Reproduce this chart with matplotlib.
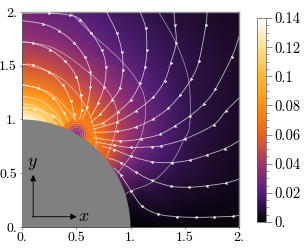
#!/usr/bin/env python3
import numpy as np
import matplotlib
matplotlib.use('Agg')
import matplotlib.pyplot as plt
from matplotlib.colors import LinearSegmentedColormap, Normalize
from matplotlib.cm import ScalarMappable
from matplotlib.patches import Circle
from matplotlib.ticker import MultipleLocator

plt.rcParams['mathtext.fontset'] = 'cm'
plt.rcParams['font.family'] = ['cmr10', 'DejaVu Serif']
plt.rcParams['axes.unicode_minus'] = False

# colour scale
bar_levels = [0.0, 0.01, 0.02, 0.04, 0.06, 0.08, 0.10, 0.12, 0.14]
bar_colors = ['#000000', '#2a1140', '#531f7c', '#a03470', '#ec6416', '#ff8f14',
              '#ffb733', '#ffe08a', '#ffffff']

# field values on a polar table around the origin
theta_deg = [0, 15, 30, 40, 50, 60, 70, 80, 90]
radius = [1.0, 1.1, 1.25, 1.5, 1.75, 2.0, 2.4, 2.85]
field = [
    [0.000, 0.001, 0.002, 0.002, 0.002, 0.002, 0.002, 0.002],
    [0.006, 0.008, 0.009, 0.008, 0.007, 0.005, 0.004, 0.003],
    [0.030, 0.029, 0.025, 0.019, 0.013, 0.009, 0.006, 0.004],
    [0.058, 0.052, 0.040, 0.028, 0.018, 0.012, 0.008, 0.005],
    [0.072, 0.068, 0.054, 0.035, 0.022, 0.015, 0.009, 0.005],
    [0.076, 0.076, 0.062, 0.041, 0.026, 0.018, 0.010, 0.006],
    [0.092, 0.086, 0.070, 0.046, 0.030, 0.021, 0.011, 0.006],
    [0.125, 0.105, 0.080, 0.051, 0.034, 0.025, 0.012, 0.006],
    [0.140, 0.112, 0.084, 0.054, 0.038, 0.028, 0.014, 0.007],
]

# dip in the field around the stagnation point on the disc
dip_x, dip_y = 0.5, 0.866
dip_r = [0.0, 0.03, 0.06, 0.09, 0.12, 0.14]
dip_val = [0.026, 0.034, 0.044, 0.056, 0.070, 0.076]
ring_r = [0.02, 0.04, 0.06, 0.08, 0.10]

# stream lines with arrows, the listed points carry the arrows
stream_lines = [
    [(0.00, 1.99), (0.25, 1.99), (0.44, 1.97), (0.535, 1.93), (0.64, 1.80), (0.735, 1.647), (0.774, 1.49), (0.756, 1.305), (0.70, 1.15), (0.627, 1.01)],
    [(0.00, 1.92), (0.196, 1.888), (0.344, 1.823), (0.479, 1.714), (0.58, 1.578), (0.63, 1.44), (0.63, 1.30), (0.60, 1.12), (0.56, 1.01)],
    [(0.00, 1.72), (0.10, 1.71), (0.26, 1.65), (0.40, 1.54), (0.50, 1.40), (0.54, 1.23), (0.55, 1.09), (0.53, 1.00)],
    [(0.00, 1.51), (0.097, 1.51), (0.25, 1.44), (0.375, 1.32), (0.45, 1.17), (0.48, 1.05), (0.49, 1.00)],
    [(0.00, 1.32), (0.15, 1.29), (0.29, 1.20), (0.385, 1.06), (0.43, 0.98)],
    [(0.00, 1.11), (0.12, 1.10), (0.29, 1.03), (0.38, 0.95)],
    [(0.78, 2.00), (0.876, 1.80), (0.92, 1.63), (0.93, 1.46), (0.90, 1.29), (0.83, 1.18), (0.72, 1.05), (0.63, 0.97)],
    [(1.09, 2.00), (1.14, 1.85), (1.15, 1.65), (1.134, 1.49), (1.09, 1.34), (1.00, 1.18), (0.885, 1.07), (0.75, 0.97), (0.65, 0.94)],
    [(1.40, 2.00), (1.41, 1.88), (1.42, 1.71), (1.37, 1.525), (1.315, 1.36), (1.21, 1.21), (1.05, 1.08), (0.88, 0.98), (0.66, 0.91)],
    [(1.705, 2.00), (1.695, 1.88), (1.63, 1.54), (1.56, 1.377), (1.46, 1.23), (1.35, 1.107), (1.21, 1.005), (1.05, 0.93), (0.88, 0.89), (0.66, 0.88)],
    [(2.00, 1.77), (1.935, 1.584), (1.78, 1.28), (1.675, 1.144), (1.55, 1.035), (1.41, 0.94), (1.27, 0.862), (1.10, 0.82), (0.90, 0.80), (0.66, 0.83)],
    [(2.00, 1.20), (1.88, 1.08), (1.765, 0.95), (1.505, 0.82), (1.284, 0.756), (1.20, 0.747), (1.00, 0.74), (0.85, 0.76), (0.68, 0.79)],
    [(2.00, 0.80), (1.87, 0.73), (1.705, 0.67), (1.55, 0.623), (1.38, 0.60), (1.20, 0.607), (1.00, 0.66), (0.85, 0.72), (0.74, 0.75)],
    [(2.00, 0.444), (1.88, 0.41), (1.705, 0.384), (1.54, 0.37), (1.37, 0.38), (1.195, 0.434), (1.05, 0.509), (0.91, 0.60), (0.80, 0.64)],
    [(2.00, 0.11), (1.945, 0.10), (1.77, 0.093), (1.60, 0.09), (1.43, 0.096), (1.255, 0.12), (1.107, 0.195), (1.005, 0.335), (0.91, 0.484), (0.85, 0.55)],
]

# thin lines without arrows
thin_lines = [
    [(1.26, 2.00), (1.42, 1.71), (1.536, 1.365), (1.545, 0.95), (1.49, 0.81), (1.38, 0.60), (1.20, 0.42), (1.00, 0.335), (0.95, 0.30)],
    [(0.44, 2.00), (0.64, 1.80), (0.92, 1.54), (1.09, 1.31), (1.14, 1.10), (1.10, 0.85), (1.00, 0.66), (0.88, 0.50)],
    [(0.00, 1.73), (0.30, 1.66), (0.60, 1.45), (0.80, 1.25), (0.88, 1.05), (0.85, 0.85), (0.78, 0.65)],
    [(0.00, 1.52), (0.30, 1.42), (0.50, 1.25), (0.62, 1.05), (0.68, 0.85), (0.68, 0.72)],
    [(0.00, 1.33), (0.25, 1.25), (0.43, 1.08), (0.50, 0.98)],
    [(0.00, 1.22), (0.18, 1.17), (0.33, 1.04), (0.38, 0.94)],
    [(0.00, 1.15), (0.15, 1.11), (0.28, 0.99), (0.31, 0.95)],
    [(0.00, 1.08), (0.12, 1.05), (0.22, 0.97)],
    [(0.00, 1.04), (0.08, 1.02), (0.15, 0.99)],
]

x_ticks = [0, 0.5, 1, 1.5, 2]
tick_text = ['0.', '0.5', '1.', '1.5', '2.']
bar_ticks = [0, 0.02, 0.04, 0.06, 0.08, 0.10, 0.12, 0.14]
bar_text = ['0.', '0.02', '0.04', '0.06', '0.08', '0.1', '0.12', '0.14']


def smooth(pts, n=12):
    # catmull-rom through the read points so the lines stay round
    p = np.array(pts, dtype=float)
    p = np.vstack([2 * p[0] - p[1], p, 2 * p[-1] - p[-2]])
    out = []
    for i in range(1, len(p) - 2):
        t = np.linspace(0, 1, n, endpoint=False)[:, None]
        out.append(0.5 * (2 * p[i] + (p[i + 1] - p[i - 1]) * t
                          + (2 * p[i - 1] - 5 * p[i] + 4 * p[i + 1] - p[i + 2]) * t ** 2
                          + (3 * p[i] - p[i - 1] - 3 * p[i + 1] + p[i + 2]) * t ** 3))
    out.append(p[-2][None, :])
    return np.vstack(out)


W, H = 304, 249
fig = plt.figure(figsize=(W / 100, H / 100), dpi=100)
ax = fig.add_axes([22 / W, 1 - 227 / H, 217 / W, 215 / H])
cmap = LinearSegmentedColormap.from_list('sunset', [(v / 0.14, c) for v, c in zip(bar_levels, bar_colors)])
norm = Normalize(0, 0.14)

th = np.radians(theta_deg)
R, T = np.meshgrid(radius, th)
ax.pcolormesh(R * np.cos(T), R * np.sin(T), np.array(field), cmap=cmap, norm=norm, shading='gouraud', zorder=1)

a = np.radians(np.arange(0, 361, 15))
dR, dA = np.meshgrid(dip_r, a)
dV = np.tile(dip_val, (len(a), 1))
ax.pcolormesh(dip_x + dR * np.cos(dA), dip_y + dR * np.sin(dA), dV, cmap=cmap, norm=norm, shading='gouraud', zorder=1.5)

for line in thin_lines:
    xy = smooth(line)
    ax.plot(xy[:, 0], xy[:, 1], color='white', lw=0.55, alpha=0.55, zorder=2)
for r in ring_r:
    ax.add_patch(Circle((dip_x, dip_y), r, fc='none', ec='white', lw=0.35, alpha=0.5, zorder=2))

for line in stream_lines:
    xy = smooth(line)
    ax.plot(xy[:, 0], xy[:, 1], color='white', lw=0.6, alpha=0.7, zorder=3)
    # the arrows sit on the inner points and point along the line
    for k in range(1, len(line) - 1):
        dx = line[k + 1][0] - line[k - 1][0]
        dy = line[k + 1][1] - line[k - 1][1]
        ang = np.degrees(np.arctan2(dy, dx)) - 90
        ax.plot(line[k][0], line[k][1], marker=(3, 0, ang), ms=2.8, color='white', mew=0, zorder=4)

ax.add_patch(Circle((0, 0), 1.0, fc='#808080', ec='none', zorder=5))

ax.annotate('', xy=(0.504, 0.096), xytext=(0.096, 0.096), zorder=6,
            arrowprops=dict(arrowstyle='-|>', color='black', lw=0.6, mutation_scale=9, shrinkA=0, shrinkB=0))
ax.annotate('', xy=(0.103, 0.484), xytext=(0.103, 0.09), zorder=6,
            arrowprops=dict(arrowstyle='-|>', color='black', lw=0.6, mutation_scale=9, shrinkA=0, shrinkB=0))
ax.text(0.57, 0.096, r'$x$', fontsize=13, ha='center', va='center', zorder=6)
ax.text(0.10, 0.586, r'$y$', fontsize=13, ha='center', va='center', zorder=6)

ax.set_xlim(0, 2)
ax.set_ylim(0, 2)
ax.set_xticks(x_ticks, tick_text)
ax.set_yticks(x_ticks, tick_text)
ax.tick_params(length=1.5, width=0.5, color='#555555', labelsize=10, pad=2)
for side in ['top', 'right']:
    ax.spines[side].set_color('#8a8a8a')
    ax.spines[side].set_linewidth(1.0)
for side in ['left', 'bottom']:
    ax.spines[side].set_color('#555555')
    ax.spines[side].set_linewidth(0.7)

cax = fig.add_axes([257 / W, 1 - 222 / H, 9 / W, 204 / H])
cb = fig.colorbar(ScalarMappable(norm=norm, cmap=cmap), cax=cax)
cb.set_ticks(bar_ticks, labels=bar_text)
cb.ax.yaxis.set_minor_locator(MultipleLocator(0.005))
cb.ax.tick_params(which='major', length=4, width=0.5, color='#555555', labelsize=10.5, pad=2)
cb.ax.tick_params(which='minor', length=2, width=0.4, color='#555555')
cb.outline.set_linewidth(0.5)
cb.outline.set_edgecolor('#555555')

fig.savefig('out.png', dpi=100)
